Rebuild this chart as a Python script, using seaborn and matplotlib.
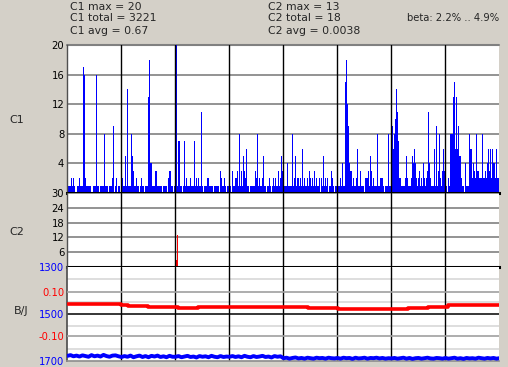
import matplotlib
matplotlib.use("Agg")
import matplotlib.pyplot as plt
import seaborn as sns
import numpy as np
import pandas as pd

sns.set_theme(style="white")
plt.rcParams['font.family'] = ['DejaVu Sans']

# ---------------- data ----------------
# C1 counts, 8 sections of 54 display bins
c1_sec0 = [1,1,1,1,2,1,2,1,0,0,1,1,2,1,1,1,17,16,2,1,1,1,1,1,0,0,1,1,1,16,1,1,0,1,1,1,1,8,1,1,1,0,1,1,1,2,9,0,1,2,0,1,1,0]
c1_sec1 = [1,2,1,1,5,1,14,1,1,1,8,5,3,1,1,2,1,1,0,1,2,1,1,0,1,1,1,13,18,4,4,1,1,1,3,3,1,1,1,1,1,0,1,1,1,1,0,2,3,3,1,1,0,1]
c1_sec2 = [20,20,1,7,7,1,1,0,1,7,1,2,1,1,1,2,1,1,1,7,1,2,1,2,1,1,11,1,0,1,1,1,2,2,1,1,1,1,0,1,1,1,1,1,0,3,2,1,1,2,1,0,1,1]
c1_sec3 = [1,1,0,3,1,1,2,2,3,1,8,1,3,1,5,3,2,6,1,1,0,1,1,1,1,1,3,2,8,1,2,1,1,2,5,1,1,0,1,1,2,1,0,1,2,1,2,1,1,3,1,2,5,3]
c1_sec4 = [1,1,1,1,4,1,1,1,1,8,1,2,5,1,2,2,1,2,1,6,1,2,1,1,2,1,3,2,1,2,1,3,1,2,1,1,2,0,2,1,5,1,2,1,2,0,1,1,3,2,1,0,1,1]
c1_sec5 = [1,1,1,2,1,4,1,1,15,18,12,9,4,3,3,1,2,1,1,2,6,1,1,3,1,1,1,0,2,2,2,3,1,5,3,1,2,1,1,1,8,1,1,2,2,2,1,0,1,1,1,8,1,1]
c1_sec6 = [1,9,6,8,10,14,11,7,2,2,1,1,1,1,2,5,2,1,1,1,2,5,4,6,4,2,1,2,3,1,2,1,4,2,1,2,3,11,4,2,1,1,1,6,1,9,1,3,8,2,1,3,6,3]
c1_sec7 = [1,1,0,2,1,8,8,8,13,15,6,13,6,9,5,5,2,1,1,0,4,1,1,1,8,6,6,2,4,3,2,8,3,3,2,2,2,8,2,2,3,2,4,6,3,6,2,6,4,4,2,6,2,2]
c1_values = c1_sec0 + c1_sec1 + c1_sec2 + c1_sec3 + c1_sec4 + c1_sec5 + c1_sec6 + c1_sec7
c1_bins = list(range(len(c1_values)))

# C2 counts (only non-zero display bins)
c2_bins = [109, 110]
c2_values = [3, 13]

# beta (red, right scale) as steps
beta_bins = [0, 25, 53, 60, 80, 110, 130, 240, 270, 280, 340, 360, 380, 400, 431]
beta_values = [0.048, 0.044, 0.041, 0.037, 0.033, 0.028, 0.032, 0.026, 0.024, 0.021, 0.027, 0.034, 0.039, 0.042, 0.042]

# B/J (blue, left scale), one sample every 3 bins
bj_values = [1678, 1675, 1680, 1677, 1681, 1676, 1679, 1682, 1675, 1680, 1677, 1681, 1674, 1679, 1682, 1677, 1676, 1680,
             1683, 1679, 1682, 1677, 1684, 1680, 1677, 1683, 1679, 1684, 1678, 1681, 1677, 1683, 1680, 1684, 1678, 1682,
             1682, 1679, 1684, 1681, 1678, 1683, 1681, 1685, 1679, 1682, 1680, 1684, 1678, 1682, 1684, 1679, 1683, 1681,
             1682, 1679, 1683, 1680, 1684, 1678, 1682, 1684, 1679, 1683, 1681, 1678, 1683, 1681, 1685, 1679, 1682, 1680,
             1688, 1686, 1690, 1687, 1685, 1689, 1687, 1690, 1686, 1688, 1690, 1686, 1688, 1687, 1690, 1686, 1688, 1689,
             1687, 1690, 1686, 1688, 1687, 1691, 1686, 1689, 1688, 1686, 1690, 1687, 1688, 1686, 1689, 1687, 1690, 1688,
             1689, 1687, 1690, 1688, 1686, 1690, 1687, 1691, 1688, 1687, 1690, 1688, 1686, 1689, 1690, 1687, 1688, 1690,
             1687, 1690, 1688, 1686, 1690, 1688, 1691, 1687, 1689, 1688, 1690, 1686, 1688, 1690, 1687, 1689, 1687, 1690, 1688]
bj_bins = [3 * k for k in range(len(bj_values))]

c1_ticks = [4, 8, 12, 16, 20]
c2_ticks = [6, 12, 18, 24, 30]
bj_ticks = [1300, 1500, 1700]
bj_minor = [1350, 1450, 1550, 1650]
beta_ticks = [0.10, -0.10]
beta_labels = ["0.10", "-0.10"]
section_edges = [53.5, 107.5, 161.5, 215.5, 269.5, 323.5, 377.5]

stats_left = ["C1 max = 20", "C1 total = 3221", "C1 avg = 0.67"]
stats_mid = ["C2 max = 13", "C2 total = 18", "C2 avg = 0.0038"]
beta_text = "beta: 2.2% .. 4.9%"

# ---------------- figure ----------------
BG = '#D4D0C8'
W, H = 508, 367
fig = plt.figure(figsize=(W / 100, H / 100), dpi=100, facecolor=BG)

def px_axes(x0, y0, x1, y1):
    return fig.add_axes([x0 / W, 1 - y1 / H, (x1 - x0) / W, (y1 - y0) / H])

ax1 = px_axes(67, 45, 499, 193)
ax2 = px_axes(67, 193, 499, 267)
ax3 = px_axes(67, 267, 499, 361)

XL = (-0.5, 431.5)
TICKFS = 7.2
VLW = 1.0

# C1
df1 = pd.DataFrame({"bin": c1_bins, "count": c1_values})
sns.barplot(data=df1, x="bin", y="count", native_scale=True, orient="x", width=1,
            color="#0000FF", saturation=1, linewidth=0, errorbar=None, ax=ax1)
ax1.set_ylim(0, 20)
ax1.set_yticks(c1_ticks)
ax1.set_yticklabels([str(t) for t in c1_ticks])

# C2
df2 = pd.DataFrame({"bin": c2_bins, "count": c2_values})
sns.barplot(data=df2, x="bin", y="count", native_scale=True, orient="x", width=1,
            color="#FF0000", saturation=1, linewidth=0, errorbar=None, ax=ax2)
ax2.set_ylim(0, 30)
ax2.set_yticks(c2_ticks)
ax2.set_yticklabels([str(t) for t in c2_ticks])

for ax in (ax1, ax2):
    ax.set_facecolor('white')
    ax.set_xlim(*XL)
    ax.set_xlabel("")
    ax.set_ylabel("")
    ax.set_xticks(section_edges)
    ax.set_xticklabels([])
    ax.grid(False)
    for t in ax.get_yticks():
        ax.axhline(t, color='#808080', lw=1.2, zorder=0.5)
    for e in section_edges:
        ax.axvline(e, color='black', lw=VLW, zorder=3)
    ax.tick_params(axis='both', length=0, labelsize=TICKFS, pad=2, colors='black')
    ax.spines['right'].set_visible(False)
    ax.spines['top'].set_visible(False)
    ax.spines['left'].set_color('#505050')
    ax.spines['left'].set_linewidth(1)
    ax.spines['bottom'].set_color('black')
    ax.spines['bottom'].set_linewidth(2.2)
    ax.spines['bottom'].set_zorder(4)

# B/J panel
ax3.set_facecolor('white')
sns.lineplot(x=bj_bins, y=bj_values, color="#0000FF", lw=2.8, estimator=None, ax=ax3, zorder=3)
ax3.set_xlim(*XL)
ax3.set_ylim(1700, 1300)
ax3.set_yticks(bj_ticks)
ax3.set_yticklabels([str(t) for t in bj_ticks])
ax3.grid(False)
for t in bj_minor:
    ax3.axhline(t, color='#D8D8D8', lw=1.2, zorder=0.5)
ax3.axhline(1500, color='black', lw=1.1, zorder=0.6)
for e in section_edges:
    ax3.axvline(e, color='black', lw=VLW, zorder=2)
ax3.set_xticks(section_edges)
ax3.set_xticklabels([])
ax3.tick_params(axis='x', length=3, width=1, color='#606060', direction='out')
ax3.tick_params(axis='y', length=0, labelsize=TICKFS, pad=2, labelcolor='#0000FF')
ax3.spines['right'].set_visible(False)
ax3.spines['top'].set_visible(False)
ax3.spines['left'].set_color('#505050')
ax3.spines['bottom'].set_color('#909090')
ax3.set_xlabel("")
ax3.set_ylabel("")

ax3b = ax3.twinx()
sns.lineplot(x=beta_bins, y=beta_values, color="#FF0000", lw=2.6, estimator=None,
             drawstyle='steps-post', ax=ax3b, zorder=3)
ax3b.set_ylim(-0.215, 0.215)
ax3b.set_xlim(*XL)
ax3b.set_yticks(beta_ticks)
ax3b.set_yticklabels(beta_labels)
ax3b.yaxis.tick_left()
ax3b.tick_params(axis='y', length=0, labelsize=TICKFS, pad=2, labelcolor='#FF0000')
for t in beta_ticks:
    ax3b.axhline(t, color='#A0A0A0', lw=1.2, zorder=0.5)
for s in ax3b.spines.values():
    s.set_visible(False)
ax3b.set_ylabel("")
ax3b.grid(False)

ax1.axhline(20, color='#808080', lw=1.5, zorder=0.5, clip_on=False)

# panel labels
fig.text(17 / W, 1 - 120 / H, "C1", fontsize=8, ha='center', va='center')
fig.text(17 / W, 1 - 232 / H, "C2", fontsize=8, ha='center', va='center')
fig.text(21 / W, 1 - 311 / H, "B/J", fontsize=8, ha='center', va='center')

# stats text
ys = [6.5, 18.0, 30.5]
for y, s in zip(ys, stats_left):
    fig.text(70 / W, 1 - y / H, s, fontsize=7.8, ha='left', va='center')
for y, s in zip(ys, stats_mid):
    fig.text(268 / W, 1 - y / H, s, fontsize=7.8, ha='left', va='center')
fig.text(499 / W, 1 - 18.0 / H, beta_text, fontsize=7.2, ha='right', va='center')

fig.savefig("out.png", dpi=100, facecolor=BG)
